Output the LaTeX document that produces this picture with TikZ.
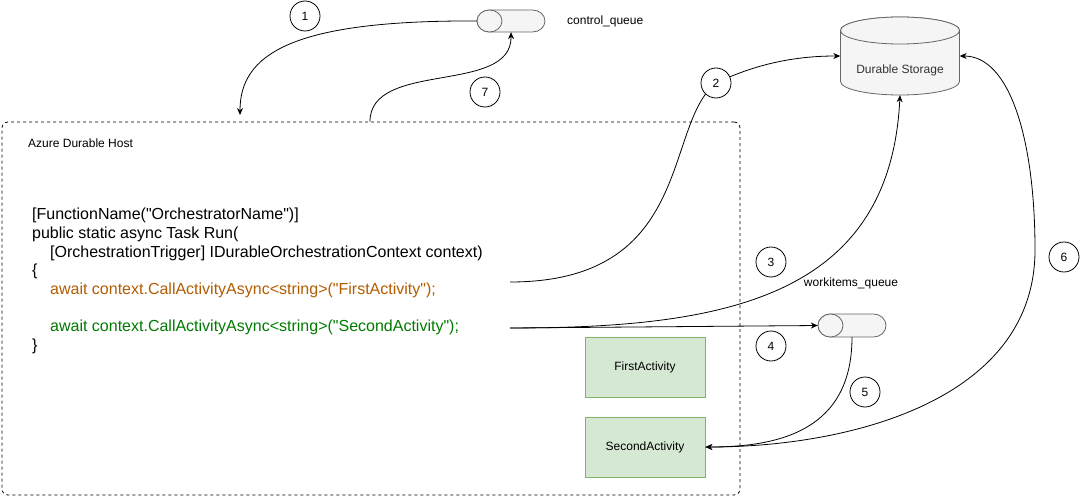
\documentclass[tikz,border=0pt]{standalone}
\usepackage{fontspec}
\setmainfont{Liberation Sans}[Ligatures=TeXOff]
\usetikzlibrary{shapes.geometric, arrows.meta, positioning}
\definecolor{cfill}{HTML}{F5F5F5}
\definecolor{cline}{HTML}{666666}
\definecolor{ctext}{HTML}{333333}
\definecolor{actfill}{HTML}{D5E8D4}
\definecolor{actline}{HTML}{82B366}
\definecolor{corange}{HTML}{B35C00}
\definecolor{cgreen}{HTML}{007A00}

\begin{document}
\begin{tikzpicture}[
    x=1pt, y=-1pt,
    >={Stealth[length=7pt, width=6pt]},
    flow/.style={->, line width=0.8pt, draw=black},
    slot/.style={rectangle, inner sep=0pt, minimum width=#1},
    cylline/.style={draw=cline, fill=cfill, line width=0.8pt},
    activity/.style={rectangle, draw=actline, fill=actfill, line width=0.8pt,
        minimum width=120pt, minimum height=60pt, font=\fontsize{12}{14}\selectfont},
    seq/.style={circle, draw=black, fill=white, line width=0.8pt, inner sep=0pt,
        minimum size=30pt, font=\fontsize{12}{14}\selectfont},
    lbl/.style={font=\fontsize{12}{14}\selectfont, inner sep=0pt}
]
\useasboundingbox (0,0) rectangle (1081,497);

%% Host container and the orchestrator code
\node[draw, dashed, line width=0.8pt, rounded corners=6pt, minimum width=738pt,
      minimum height=373pt, inner sep=0pt] (host) at (371,308.5) {};
\node[lbl, anchor=west] (hostname) at (28,143) {Azure Durable Host};
\node[anchor=north west, inner sep=0pt, align=left,
      font=\fontsize{16}{18.7}\selectfont] (code) at (32,208)
    {[FunctionName("OrchestratorName")]\\
     public static async Task Run(\\
     \hspace*{18pt}[OrchestrationTrigger] IDurableOrchestrationContext context)\\
     \{\\
     \hspace*{18pt}\textcolor{corange}{await context.CallActivityAsync<string>("FirstActivity");}\\[18.7pt]
     \hspace*{18pt}\textcolor{cgreen}{await context.CallActivityAsync<string>("SecondActivity");}\\
     \}};
\coordinate (callA) at (510,282);
\coordinate (callB) at (510,328);

%% Activities
\node[activity] (first)  at (645,367) {FirstActivity};
\node[activity] (second) at (645,447) {SecondActivity};

%% control_queue (horizontal cylinder)
\draw[cylline] (489.5,10) -- (532.5,10)
    arc[start angle=90, end angle=-90, x radius=12.5pt, y radius=11pt]
    -- (489.5,32) arc[start angle=270, end angle=90, x radius=12.5pt, y radius=11pt] -- cycle;
\draw[cylline] (489.5,21) ellipse[x radius=12.5pt, y radius=11pt];
\node[slot=68pt, minimum height=22pt] (ctrlq) at (511,21) {};
\node[lbl, anchor=west] at (567,21) {control\_queue};

%% workitems_queue (horizontal cylinder)
\draw[cylline] (830.5,314) -- (873.5,314)
    arc[start angle=90, end angle=-90, x radius=12.5pt, y radius=11.5pt]
    -- (830.5,337) arc[start angle=270, end angle=90, x radius=12.5pt, y radius=11.5pt] -- cycle;
\draw[cylline] (830.5,325.5) ellipse[x radius=12.5pt, y radius=11.5pt];
\node[slot=68pt, minimum height=23pt] (workq) at (852,325.5) {};
\node[lbl] at (851,283) {workitems\_queue};

%% Durable Storage (vertical cylinder)
\draw[cylline] (840.5,30.5) -- (840.5,81.5)
    arc[start angle=180, end angle=360, x radius=59.5pt, y radius=13.5pt]
    -- (959.5,30.5) arc[start angle=0, end angle=180, x radius=59.5pt, y radius=13.5pt] -- cycle;
\draw[cylline] (900,30.5) ellipse[x radius=59.5pt, y radius=13.5pt];
\node[slot=119pt, minimum height=78pt] (storage) at (900,56) {};
\node[lbl, text=ctext] at (900,70) {Durable Storage};

%% Connectors
\draw[flow] (ctrlq.west) .. controls (290,20) and (240,55) .. (240,115);
\draw[flow] (370,0 |- host.north) .. controls (370,60) and (512,95) .. (ctrlq.south);
\draw[flow] (callA) .. controls (695,282) and (663,125) .. (716,83)
    .. controls (760,62) and (800,56) .. (storage.west);
\draw[flow] (callB) .. controls (720,328) and (890,300) .. (storage.south);
\draw[flow] (callB) -- (workq.west);
\draw[flow] (workq.south) .. controls (852,430) and (780,447) .. (second.east);
\draw[<->, line width=0.8pt] (storage.east) .. controls (1010,56) and (1035,140) .. (1035,250)
    .. controls (1035,400) and (850,447) .. (second.east);

%% Sequence markers
\node[seq] (s1) at (305,16)  {1};
\node[seq] (s2) at (716,83)  {2};
\node[seq] (s3) at (771,262) {3};
\node[seq] (s4) at (771,346) {4};
\node[seq] (s5) at (865,392) {5};
\node[seq] (s6) at (1064,257) {6};
\node[seq] (s7) at (485,92)  {7};

\end{tikzpicture}
\end{document}
